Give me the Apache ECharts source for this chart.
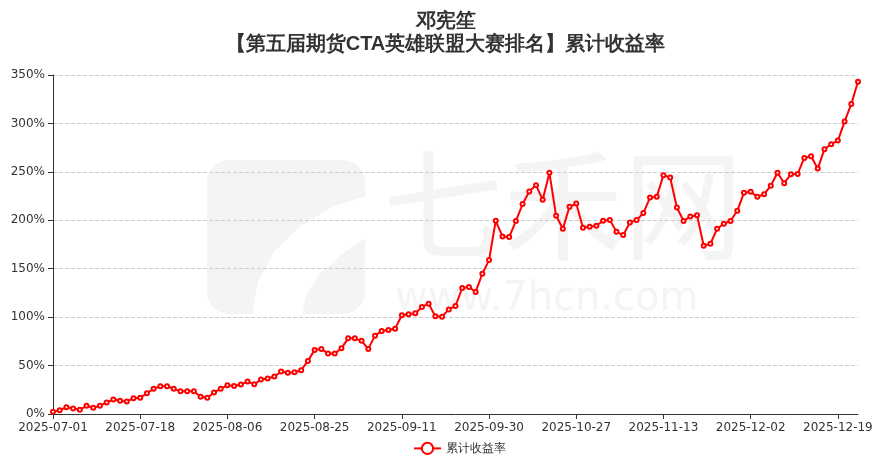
<!DOCTYPE html>
<html><head><meta charset="utf-8">
<script src="https://cdn.jsdelivr.net/npm/echarts@6/dist/echarts.min.js"></script>
<style>html,body{margin:0;padding:0;background:#fff}#c{width:891px;height:462px}</style>
</head><body><div id="c"></div>
<script>
const titleMain = '邓宪笙';
const titleSub = '【第五届期货CTA英雄联盟大赛排名】累计收益率';
const seriesName = '累计收益率';
const dates = [
'2025-07-01','2025-07-02','2025-07-03','2025-07-04','2025-07-07','2025-07-08','2025-07-09','2025-07-10','2025-07-11',
'2025-07-14','2025-07-15','2025-07-16','2025-07-17','2025-07-18','2025-07-21','2025-07-22','2025-07-23','2025-07-24','2025-07-25',
'2025-07-28','2025-07-29','2025-07-30','2025-07-31','2025-08-01','2025-08-04','2025-08-05','2025-08-06','2025-08-07','2025-08-08',
'2025-08-11','2025-08-12','2025-08-13','2025-08-14','2025-08-15','2025-08-18','2025-08-19','2025-08-20','2025-08-21','2025-08-22',
'2025-08-25','2025-08-26','2025-08-27','2025-08-28','2025-08-29','2025-09-01','2025-09-02','2025-09-03','2025-09-04','2025-09-05',
'2025-09-08','2025-09-09','2025-09-10','2025-09-11','2025-09-12','2025-09-15','2025-09-16','2025-09-17','2025-09-18','2025-09-19',
'2025-09-22','2025-09-23','2025-09-24','2025-09-25','2025-09-26','2025-09-29','2025-09-30','2025-10-09','2025-10-10',
'2025-10-13','2025-10-14','2025-10-15','2025-10-16','2025-10-17','2025-10-20','2025-10-21','2025-10-22','2025-10-23','2025-10-24',
'2025-10-27','2025-10-28','2025-10-29','2025-10-30','2025-10-31','2025-11-03','2025-11-04','2025-11-05','2025-11-06','2025-11-07',
'2025-11-10','2025-11-11','2025-11-12','2025-11-13','2025-11-14','2025-11-17','2025-11-18','2025-11-19','2025-11-20','2025-11-21',
'2025-11-24','2025-11-25','2025-11-26','2025-11-27','2025-11-28','2025-12-01','2025-12-02','2025-12-03','2025-12-04','2025-12-05',
'2025-12-08','2025-12-09','2025-12-10','2025-12-11','2025-12-12','2025-12-15','2025-12-16','2025-12-17','2025-12-18','2025-12-19',
'2025-12-22','2025-12-23','2025-12-24'
];
const returns = [
2.2,4.0,7.0,5.8,4.4,8.5,6.4,8.5,11.9,15.0,
13.6,12.9,16.3,16.7,21.4,26.0,28.7,28.7,26.0,23.5,
23.5,23.5,17.7,16.7,22.2,26.0,29.7,29.0,30.4,33.5,
30.6,35.6,36.6,38.7,43.8,42.5,43.1,45.2,54.8,66.2,
67.2,62.4,62.4,67.8,78.1,78.1,75.5,67.2,80.9,85.8,
86.8,88.1,101.9,102.9,103.9,110.5,113.9,100.8,100.5,108.0,
111.5,130.1,131.1,126.0,144.8,158.9,199.5,183.3,182.7,199.2,
216.7,229.7,236.3,221.1,249.0,204.6,191.2,213.9,217.3,192.3,
193.3,194.3,199.5,200.2,188.1,184.7,197.7,200.2,207.4,223.5,
224.2,246.6,244.1,213.2,199.2,203.9,205.3,173.7,175.8,191.2,
196.4,199.2,209.8,228.4,229.4,224.2,227.0,235.6,249.0,238.3,
247.6,247.9,264.4,266.2,253.4,273.4,278.6,282.3,301.9,320.1,
343.1
];
const yTicks = [0, 50, 100, 150, 200, 250, 300, 350];

const chart = echarts.init(document.getElementById('c'));
chart.setOption({
  animation: false,
  backgroundColor: '#fff',
  title: {
    text: titleMain + '\n' + titleSub,
    left: 'center', top: 5,
    textStyle: { fontSize: 20, fontWeight: 'bold', color: '#333', lineHeight: 23 }
  },
  graphic: [
    { type: 'rect', silent: true, z: -10, shape: { x: 207, y: 160, width: 158, height: 154, r: 22 }, style: { fill: '#f4f4f4' } },
    { type: 'polygon', silent: true, z: -9, shape: { points: [[252,316],[258,282],[274,252],[298,228],[332,207],[366,196],[366,238],[342,254],[320,274],[306,295],[302,316]] }, style: { fill: '#fff' } },
    { type: 'text', silent: true, z: -9, left: 383, top: 145, style: { text: '七禾网', font: '120px "Noto Sans CJK SC"', fill: '#f4f4f4' } },
    { type: 'text', silent: true, z: -9, left: 395, top: 280, style: { text: 'www.7hcn.com', font: '40px "DejaVu Sans"', fill: '#f4f4f4' } }
  ],
  legend: {
    bottom: 2, left: 408,
    itemWidth: 27,
    data: [seriesName],
    textStyle: { color: '#333', fontSize: 12 }
  },
  grid: { left: 53, right: 33, top: 75, bottom: 48 },
  xAxis: {
    type: 'category',
    data: dates,
    boundaryGap: false,
    axisLine: { lineStyle: { color: '#333' } },
    axisTick: { interval: 12, lineStyle: { color: '#333' } },
    axisLabel: { interval: 12, color: '#333', fontSize: 12, fontFamily: 'DejaVu Sans', margin: 8 }
  },
  yAxis: {
    type: 'value',
    min: yTicks[0], max: yTicks[yTicks.length - 1], interval: 50,
    axisLine: { show: true, lineStyle: { color: '#333' } },
    axisTick: { show: true, lineStyle: { color: '#333' } },
    axisLabel: { formatter: '{value}%', color: '#333', fontSize: 12, fontFamily: 'DejaVu Sans' },
    splitLine: { lineStyle: { type: 'dashed', color: '#ccc' } }
  },
  series: [{
    name: seriesName,
    type: 'line',
    data: returns,
    symbol: 'emptyCircle',
    symbolSize: 4,
    showAllSymbol: true,
    lineStyle: { color: '#ff0000', width: 2 },
    itemStyle: { color: '#ff0000', borderWidth: 1 }
  }]
});
</script></body></html>
